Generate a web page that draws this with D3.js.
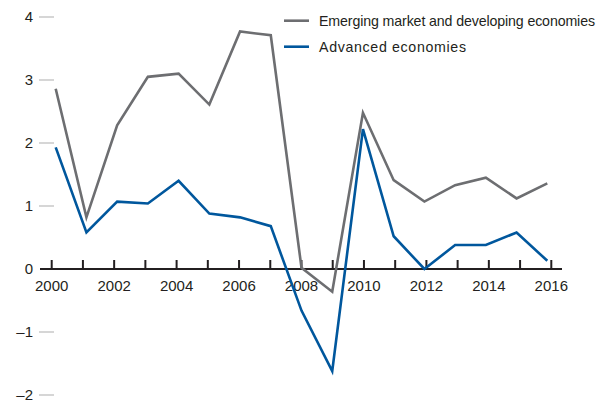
<!DOCTYPE html>
<html><head><meta charset="utf-8">
<script src="https://cdn.jsdelivr.net/npm/d3@7"></script>
<style>body{margin:0;background:#fff}svg{display:block}text{font-family:"Liberation Sans",Arial,sans-serif;fill:#231f20}</style>
</head><body><svg id="c" width="611" height="403"></svg>
<script>
const years = d3.range(2000, 2017);
const emerging = [2.86,0.82,2.28,3.05,3.10,2.61,3.77,3.71,0.02,-0.36,2.48,1.41,1.07,1.33,1.45,1.12,1.36];
const advanced = [1.93,0.58,1.07,1.04,1.40,0.88,0.82,0.68,-0.66,-1.62,2.22,0.52,0.0,0.38,0.38,0.58,0.13];
const yTicks = [-2,-1,0,1,2,3,4];
const xTickLabels = [2000,2002,2004,2006,2008,2010,2012,2014,2016];
const seriesNames = ["Emerging market and developing economies","Advanced economies"];
const colors = ["#6d6e71","#00579d"];

const svg = d3.select("#c");
const y = d3.scaleLinear().domain([-2,4]).range([395,17]);
const xData = d3.scaleLinear().domain([2000,2016]).range([55.7,547.3]);
const xAxis = d3.scaleLinear().domain([2000,2016]).range([51.7,551.3]);

// y ticks
const yg = svg.append("g");
yg.selectAll("line").data(yTicks.filter(d=>d!==0)).join("line")
  .attr("x1",39).attr("x2",54).attr("y1",d=>y(d)).attr("y2",d=>y(d))
  .attr("stroke","#c8c8c8").attr("stroke-width",1.5);
yg.selectAll("text").data(yTicks).join("text")
  .attr("x",33).attr("y",d=>y(d)).attr("dy","0.36em").attr("text-anchor","end")
  .attr("font-size",15).text(d=>d<0?"\u2013"+Math.abs(d):d);

// x axis
svg.append("line").attr("x1",40).attr("x2",562).attr("y1",y(0)).attr("y2",y(0))
  .attr("stroke","#231f20").attr("stroke-width",2);
svg.append("g").selectAll("line").data(years).join("line")
  .attr("x1",d=>xAxis(d)).attr("x2",d=>xAxis(d)).attr("y1",y(0)).attr("y2",y(0)-9)
  .attr("stroke","#231f20").attr("stroke-width",2);
svg.append("g").selectAll("text").data(xTickLabels).join("text")
  .attr("x",d=>xAxis(d)).attr("y",291).attr("text-anchor","middle")
  .attr("font-size",15).text(d=>d);

// lines
const line = d3.line().x((d,i)=>xData(years[i])).y(d=>y(d));
[emerging, advanced].forEach((s,k)=>{
  svg.append("path").datum(s).attr("d",line).attr("fill","none")
    .attr("stroke",colors[k]).attr("stroke-width",2.6).attr("stroke-linejoin","miter");
});

// legend
const legendWidths = [276,147];
const lg = svg.append("g");
seriesNames.forEach((n,k)=>{
  const ly = 20.7 + k*26;
  lg.append("line").attr("x1",284).attr("x2",309).attr("y1",ly).attr("y2",ly)
    .attr("stroke",colors[k]).attr("stroke-width",2.6);
  lg.append("text").attr("x",319).attr("y",ly).attr("dy","0.35em")
    .attr("font-size",14.2).attr("textLength",legendWidths[k]).attr("lengthAdjust","spacing").text(n);
});
</script></body></html>
